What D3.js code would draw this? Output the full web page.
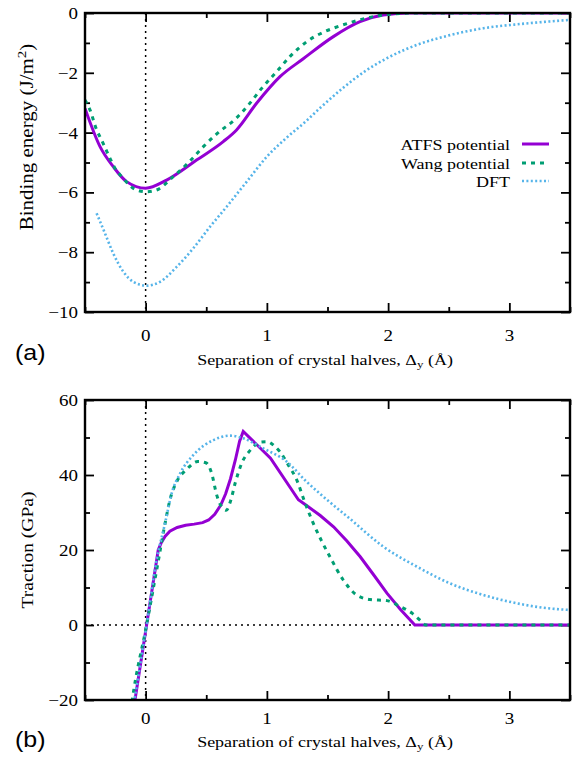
<!DOCTYPE html>
<html>
<head>
<meta charset="utf-8">
<script src="https://cdn.jsdelivr.net/npm/d3@7/dist/d3.min.js"></script>
<style>
  html, body { margin: 0; padding: 0; background: #fff; }
  svg { display: block; }
</style>
</head>
<body>
<svg id="chart" width="576" height="766"></svg>
<script>
// ---------------- DATA ----------------
const xTicks = [0, 1, 2, 3];
const xMinorTicks = [-0.5, 0.5, 1.5, 2.5, 3.5];
const energyTicks = [0, -2, -4, -6, -8, -10];
const energyMinorTicks = [-1, -3, -5, -7, -9];
const tractionTicks = [-20, 0, 20, 40, 60];
const tractionMinorTicks = [-10, 10, 30, 50];

const seriesNames = ["ATFS potential", "Wang potential", "DFT"];

// Binding energy (J/m^2) vs separation (Å)
const atfsEnergy = [[-0.5,-3.19],[-0.376,-4.47],[-0.267,-5.14],[-0.157,-5.64],[0.0,-5.86],[0.173,-5.59],[0.42,-4.92],[0.64,-4.30],[0.75,-3.91],[0.915,-3.02],[1.108,-2.13],[1.3,-1.53],[1.548,-0.79],[1.768,-0.29],[1.96,-0.07],[2.18,0],[3.5,0]];
const wangEnergy = [[-0.5,-2.91],[-0.459,-3.24],[-0.404,-3.91],[-0.363,-4.25],[-0.294,-4.86],[-0.253,-5.19],[-0.198,-5.47],[-0.074,-5.92],[0.008,-5.98],[0.09,-5.92],[0.228,-5.47],[0.352,-5.01],[0.476,-4.47],[0.599,-4.0],[0.737,-3.56],[0.847,-3.08],[0.957,-2.52],[1.081,-1.96],[1.19,-1.46],[1.328,-0.96],[1.479,-0.62],[1.548,-0.51],[1.713,-0.29],[1.878,-0.12],[2.015,-0.04],[2.2,0],[3.5,0]];
const dftEnergy = [[-0.404,-6.70],[-0.335,-7.37],[-0.267,-8.04],[-0.184,-8.65],[-0.102,-8.99],[0.008,-9.12],[0.119,-8.99],[0.256,-8.49],[0.393,-7.87],[0.531,-7.15],[0.668,-6.48],[0.834,-5.64],[0.999,-4.81],[1.163,-4.17],[1.328,-3.6],[1.438,-3.18],[1.63,-2.5],[1.823,-1.91],[2.015,-1.46],[2.235,-1.07],[2.51,-0.74],[2.785,-0.51],[3.06,-0.38],[3.28,-0.30],[3.5,-0.23]];

// Traction (GPa) vs separation (Å)
const atfsTraction = [[-0.15,-33],[0.008,0],[0.104,20],[0.13,22],[0.16,23.6],[0.2,25],[0.26,26],[0.33,26.6],[0.4,26.9],[0.47,27.3],[0.52,28],[0.57,29.5],[0.62,32],[0.66,35],[0.7,39],[0.74,44],[0.775,49],[0.805,51.6],[1.03,44.5],[1.26,33.4],[1.33,31.8],[1.44,29.2],[1.55,26.2],[1.66,22.4],[1.77,18.2],[1.88,13.4],[1.99,8.5],[2.1,4.2],[2.22,0],[3.6,0]];
const wangTraction = [[-0.15,-30],[-0.11,-20],[0.008,0],[0.104,17],[0.16,27],[0.2,33.3],[0.256,38.2],[0.338,41.5],[0.43,43.6],[0.5,43.2],[0.545,40.4],[0.586,34.7],[0.64,31],[0.665,30.6],[0.7,33],[0.74,38],[0.792,43.1],[0.86,46.5],[0.95,48.8],[1.0,48.9],[1.06,47.8],[1.108,46.2],[1.18,42.5],[1.246,38.7],[1.31,33],[1.383,27.1],[1.45,22.5],[1.52,18.2],[1.63,12],[1.74,8],[1.85,6.8],[1.99,6.5],[2.1,4.9],[2.2,3.1],[2.276,0.9],[2.31,0],[3.6,0]];
const dftTraction = [[-0.15,-31],[0.008,0],[0.09,17.3],[0.16,27.1],[0.215,35.1],[0.284,40.4],[0.393,45.3],[0.558,49.3],[0.696,50.5],[0.805,49.8],[0.97,47.1],[1.163,43.6],[1.328,38.2],[1.438,35],[1.686,28.3],[1.96,20.9],[2.235,15.6],[2.51,11.1],[2.785,8],[3.06,5.8],[3.28,4.6],[3.5,4]];

// ---------------- STYLE ----------------
const colors = ["#9400d3", "#009e73", "#56b4e9"];
const dashes = [null, "4,5", "2,2.4"];
const widths = [3, 3, 2.6];
const serif = "'Liberation Serif', 'Times New Roman', serif";
const sans = "'Liberation Sans', Arial, sans-serif";
const VS = 0.85; // vertical squash of glyphs

const svg = d3.select("#chart");

const xScaleA = d3.scaleLinear().domain([-0.5, 3.5]).range([85, 570]);
const xScaleB = d3.scaleLinear().domain([-0.5, 3.5]).range([85, 570]);
const yScaleA = d3.scaleLinear().domain([-10, 0]).range([312, 13]);
const yScaleB = d3.scaleLinear().domain([-20, 60]).range([700, 400]);

function txt(g, x, y, s, size, anchor, family) {
  return g.append("text")
    .attr("transform", `translate(${x},${y}) scale(1,${VS})`)
    .attr("font-size", size)
    .attr("font-family", family || serif)
    .attr("text-anchor", anchor || "middle")
    .attr("fill", "#000")
    .text(s);
}

function panel(id, xs, ys, yTicks, yMinor, data, curves, opts) {
  const g = svg.append("g");
  const [x0, x1] = xs.range();
  const [y1, y0] = ys.range();

  const clipId = "clip" + id;
  svg.append("defs").append("clipPath").attr("id", clipId)
    .append("rect").attr("x", x0).attr("y", y0).attr("width", x1 - x0).attr("height", y1 - y0);

  // reference dotted lines
  g.append("line").attr("x1", xs(0)).attr("x2", xs(0)).attr("y1", y0).attr("y2", y1)
    .attr("stroke", "#000").attr("stroke-width", 1.5).attr("stroke-dasharray", "2,4");
  if (opts.zeroLine) {
    g.append("line").attr("x1", x0).attr("x2", x1).attr("y1", ys(0)).attr("y2", ys(0))
      .attr("stroke", "#000").attr("stroke-width", 1.5).attr("stroke-dasharray", "2,4");
  }

  // axes ticks (inward, mirrored)
  const tickStyle = sel => { sel.select(".domain").remove(); sel.selectAll("line").attr("stroke", "#000").attr("stroke-width", 1.8); };
  g.append("g").attr("transform", `translate(0,${y1})`).call(d3.axisBottom(xs).tickValues(xTicks).tickSize(-9).tickFormat("")).call(tickStyle);
  g.append("g").attr("transform", `translate(0,${y1})`).call(d3.axisBottom(xs).tickValues(xMinorTicks).tickSize(-5).tickFormat("")).call(tickStyle);
  g.append("g").attr("transform", `translate(0,${y0})`).call(d3.axisTop(xs).tickValues(xTicks).tickSize(-9).tickFormat("")).call(tickStyle);
  g.append("g").attr("transform", `translate(0,${y0})`).call(d3.axisTop(xs).tickValues(xMinorTicks).tickSize(-5).tickFormat("")).call(tickStyle);
  g.append("g").attr("transform", `translate(${x0},0)`).call(d3.axisLeft(ys).tickValues(yTicks).tickSize(-9).tickFormat("")).call(tickStyle);
  g.append("g").attr("transform", `translate(${x0},0)`).call(d3.axisLeft(ys).tickValues(yMinor).tickSize(-5).tickFormat("")).call(tickStyle);
  g.append("g").attr("transform", `translate(${x1},0)`).call(d3.axisRight(ys).tickValues(yTicks).tickSize(-9).tickFormat("")).call(tickStyle);
  g.append("g").attr("transform", `translate(${x1},0)`).call(d3.axisRight(ys).tickValues(yMinor).tickSize(-5).tickFormat("")).call(tickStyle);

  // curves
  const cg = g.append("g").attr("clip-path", `url(#${clipId})`);
  data.forEach((d, i) => {
    const line = d3.line().x(p => xs(p[0])).y(p => ys(p[1])).curve(curves[i]);
    cg.append("path").datum(d).attr("d", line)
      .attr("fill", "none").attr("stroke", colors[i]).attr("stroke-width", widths[i])
      .attr("stroke-dasharray", dashes[i]).attr("stroke-linejoin", "miter");
  });

  // frame
  g.append("rect").attr("x", x0).attr("y", y0).attr("width", x1 - x0).attr("height", y1 - y0)
    .attr("fill", "none").attr("stroke", "#000").attr("stroke-width", 2.4);

  // tick labels
  const fmt = d3.format("");
  yTicks.forEach(v => txt(g, 78, ys(v) + 6, fmt(v), 19, "end"));
  xTicks.forEach(v => txt(g, xs(v), y1 + opts.xLabOff, fmt(v), 19, "middle"));

  // x label
  const xl = txt(g, 325, y1 + opts.xTitleOff, "", 18, "middle");
  xl.append("tspan").text("Separation of crystal halves, \u0394");
  xl.append("tspan").attr("font-size", 13).attr("dy", 4).text("y");
  xl.append("tspan").attr("dy", -4).text(" (\u00c5)");

  // y label
  const yl = g.append("text")
    .attr("transform", `translate(33,${opts.yTitleY}) rotate(-90) scale(1,0.9)`)
    .attr("font-size", opts.yTitleSize).attr("font-family", serif).attr("text-anchor", "middle");
  opts.yTitle(yl);

  // panel letter
  txt(g, 15, y1 + opts.letterOff, opts.letter, 25, "start", sans);
  return g;
}

const curvesA = [d3.curveMonotoneX, d3.curveMonotoneX, d3.curveMonotoneX];
const curvesB = [d3.curveLinear, d3.curveMonotoneX, d3.curveMonotoneX];

const gA = panel("A", xScaleA, yScaleA, energyTicks, energyMinorTicks,
  [atfsEnergy, wangEnergy, dftEnergy], curvesA,
  { zeroLine: false, xLabOff: 29, xTitleOff: 53, letterOff: 48, letter: "(a)", yTitleY: 137, yTitleSize: 21,
    yTitle: t => { t.append("tspan").text("Binding energy (J/m"); t.append("tspan").attr("font-size", 15).attr("dy", -8).text("2"); t.append("tspan").attr("dy", 8).text(")"); } });

const gB = panel("B", xScaleB, yScaleB, tractionTicks, tractionMinorTicks,
  [atfsTraction, wangTraction, dftTraction], curvesB,
  { zeroLine: true, xLabOff: 24, xTitleOff: 47, letterOff: 47, letter: "(b)", yTitleY: 550, yTitleSize: 19.5,
    yTitle: t => t.text("Traction (GPa)") });

// legend (panel a)
const leg = svg.append("g");
const legY = [144, 163, 181];
seriesNames.forEach((n, i) => {
  txt(leg, 510, legY[i] + 5.5, n, 18, "end");
  leg.append("line").attr("x1", 522).attr("x2", 549).attr("y1", legY[i]).attr("y2", legY[i])
    .attr("stroke", colors[i]).attr("stroke-width", widths[i]).attr("stroke-dasharray", dashes[i]);
});
</script>
</body>
</html>
